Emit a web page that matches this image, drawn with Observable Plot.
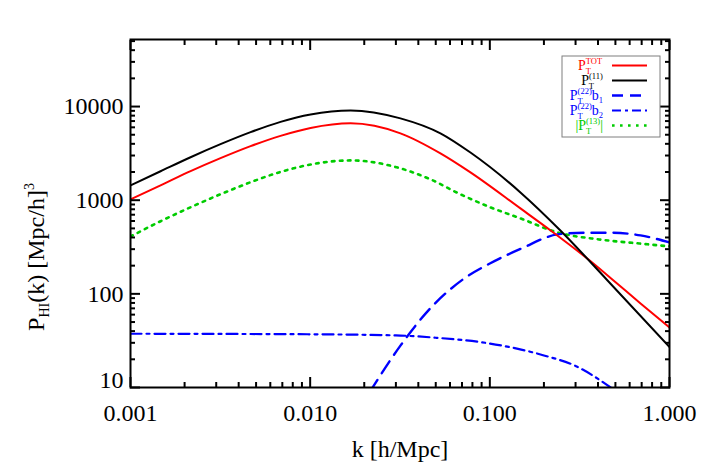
<!DOCTYPE html>
<html><head><meta charset="utf-8">
<script src="https://cdn.jsdelivr.net/npm/d3@7"></script>
<script src="https://cdn.jsdelivr.net/npm/@observablehq/plot@0.6"></script>
<style>body{margin:0;background:#fff;} svg{display:block}</style>
</head><body><div id="chart"></div>
<script>
// ---- data ----
const kTot = [0.001, 0.00147, 0.00216, 0.00317, 0.00466, 0.00684, 0.01005, 0.0168, 0.0318, 0.0531, 0.078, 0.148, 0.218, 0.377, 0.488, 0.69, 1.0];
const pTot = [1021, 1441, 2042, 2811, 3777, 4866, 5904, 6620, 5176, 3162, 1982, 817, 475, 211, 139, 79, 43.7];

const k11 = [0.001, 0.00147, 0.00216, 0.00317, 0.00466, 0.00684, 0.01005, 0.0168, 0.0318, 0.0531, 0.078, 0.148, 0.247, 0.452, 1.0];
const p11 = [1439, 2037, 2877, 3963, 5325, 6866, 8244, 9096, 7482, 5176, 3227, 1211, 475, 139, 27];

const k22b1 = [0.0215, 0.0318, 0.045, 0.0713, 0.1, 0.15, 0.238, 0.332, 0.47, 0.69, 1.0];
const p22b1 = [9, 28, 65, 144, 211, 305, 431, 450, 450, 421, 354];

const k22b2 = [0.001, 0.01, 0.03, 0.05, 0.1, 0.2, 0.3, 0.47, 0.6];
const p22b2 = [37.5, 37, 36, 34, 29.5, 22, 17, 10, 7];

const k13 = [0.001, 0.00147, 0.00216, 0.00317, 0.00466, 0.00684, 0.01005, 0.0168, 0.0318, 0.0468, 0.0688, 0.101, 0.148, 0.238, 0.406, 0.678, 1.0];
const p13 = [410, 596, 841, 1158, 1556, 2005, 2404, 2660, 2187, 1667, 1153, 838, 640, 453, 381, 345, 321];

const xMajor = [0.001, 0.01, 0.1, 1];
const xLabels = ["0.001", "0.010", "0.100", "1.000"];
const yMajor = [10, 100, 1000, 10000];
const yLabels = ["10", "100", "1000", "10000"];
const minorMult = [2, 3, 4, 5, 6, 7, 8, 9];

// ---- helpers ----
const rows = (ks, ps) => ks.map((k, i) => ({k, p: ps[i]}));
const xMinor = [0.001, 0.01, 0.1].flatMap(d => minorMult.map(m => d * m));
const yMinor = [10, 100, 1000, 10000].flatMap(d => minorMult.map(m => d * m)).filter(v => v <= 52000);
const xFmt = d => xLabels[xMajor.indexOf(d)];
const yFmt = d => yLabels[yMajor.indexOf(d)];
const FONT = "'Liberation Serif', 'Times New Roman', serif";
const RED = "#ff0000", BLUE = "#0000ff", GREEN = "#00cc00";

const lineOpts = {x: "k", y: "p", curve: "monotone-x", clip: true};

const plot = Plot.plot({
  width: 709, height: 471,
  marginLeft: 130, marginRight: 40, marginTop: 39, marginBottom: 84,
  style: {fontFamily: FONT, background: "white", color: "black"},
  x: {type: "log", domain: [0.001, 1], label: null},
  y: {type: "log", domain: [10, 52000], label: null},
  marks: [
    Plot.line(rows(k13, p13), {...lineOpts, stroke: GREEN, strokeWidth: 2.6, strokeDasharray: "2.6,5.4"}),
    Plot.line(rows(k22b2, p22b2), {...lineOpts, stroke: BLUE, strokeWidth: 2.2, strokeDasharray: "11,5,3,5"}),
    Plot.line(rows(k22b1, p22b1), {...lineOpts, stroke: BLUE, strokeWidth: 2.4, strokeDasharray: "14,8"}),
    Plot.line(rows(kTot, pTot), {...lineOpts, stroke: RED, strokeWidth: 2}),
    Plot.line(rows(k11, p11), {...lineOpts, stroke: "black", strokeWidth: 2}),
    Plot.frame({stroke: "black", strokeWidth: 2}),
    // inward ticks on all four sides
    Plot.axisX(xMajor, {anchor: "bottom", tickSize: -10, strokeWidth: 2, tickFormat: () => "", label: null}),
    Plot.axisX(xMinor, {anchor: "bottom", tickSize: -5, strokeWidth: 2, tickFormat: () => "", label: null}),
    Plot.axisX(xMajor, {anchor: "top", tickSize: -10, strokeWidth: 2, tickFormat: () => "", label: null}),
    Plot.axisX(xMinor, {anchor: "top", tickSize: -5, strokeWidth: 2, tickFormat: () => "", label: null}),
    Plot.axisY(yMajor, {anchor: "left", tickSize: -10, strokeWidth: 2, tickFormat: () => "", label: null}),
    Plot.axisY(yMinor, {anchor: "left", tickSize: -5, strokeWidth: 2, tickFormat: () => "", label: null}),
    Plot.axisY(yMajor, {anchor: "right", tickSize: -10, strokeWidth: 2, tickFormat: () => "", label: null}),
    Plot.axisY(yMinor, {anchor: "right", tickSize: -5, strokeWidth: 2, tickFormat: () => "", label: null}),
    // tick labels
    Plot.axisX(xMajor, {anchor: "bottom", tickSize: 0, tickPadding: 16, tickFormat: xFmt, fontSize: 24, label: null}),
    Plot.axisY(yMajor.slice(1), {anchor: "left", tickSize: 0, tickPadding: 7, tickFormat: yFmt, fontSize: 24, label: null}),
    Plot.axisY(yMajor.slice(0, 1), {anchor: "left", tickSize: 0, tickPadding: 7, tickFormat: yFmt, fontSize: 24, dy: -7, label: null})
  ]
});
document.getElementById("chart").appendChild(plot);

const svg = d3.select(plot);

// axis titles
svg.append("text")
  .attr("x", 400).attr("y", 457)
  .attr("text-anchor", "middle")
  .style("font-family", FONT).style("font-size", "24px").attr("fill", "black")
  .text("k [h/Mpc]");

const yt = svg.append("text")
  .attr("transform", "translate(44,257) rotate(-90)")
  .attr("text-anchor", "middle")
  .style("font-family", FONT).style("font-size", "24px").attr("fill", "black");
yt.append("tspan").text("P");
yt.append("tspan").style("font-size", "14px").attr("dy", 5).text("HI");
yt.append("tspan").attr("dy", -5).text("(k) [Mpc/h]");
yt.append("tspan").style("font-size", "14px").attr("dy", -10).text("3");

// legend
const lg = svg.append("g");
lg.append("rect").attr("x", 562).attr("y", 56).attr("width", 98).attr("height", 81)
  .attr("fill", "white").attr("stroke", "#7f7f7f").attr("stroke-width", 1);

// each label is one text element, right-aligned at xRight via its measured box
function richText(xRight, yBase, segs, color) {
  const t = lg.append("text").attr("x", 0).attr("y", yBase)
    .style("font-family", FONT).attr("fill", color);
  for (const s of segs) {
    t.append("tspan").style("font-size", s.size + "px")
      .attr("dx", s.dx || 0).attr("dy", s.dy || 0).text(s.t);
  }
  const b = t.node().getBBox();
  t.attr("transform", `translate(${xRight - (b.x + b.width)},0)`);
}
const M = 14, S = 8.5;
const legendItems = [
  {segs: [{t: "P", size: M}, {t: "TOT", size: S, dy: -6}, {t: "T", size: S, dx: -16.5, dy: 10}], color: RED, dash: null, lw: 2},
  {segs: [{t: "P", size: M}, {t: "(11)", size: S, dy: -6}, {t: "T", size: S, dx: -14.2, dy: 10}], color: "black", dash: null, lw: 2},
  {segs: [{t: "P", size: M}, {t: "(22)", size: S, dy: -6}, {t: "T", size: S, dx: -14.2, dy: 10}, {t: "b", size: M, dx: 9, dy: -4}, {t: "1", size: S, dy: 3}], color: BLUE, dash: "11,7", lw: 2.4},
  {segs: [{t: "P", size: M}, {t: "(22)", size: S, dy: -6}, {t: "T", size: S, dx: -14.2, dy: 10}, {t: "b", size: M, dx: 9, dy: -4}, {t: "2", size: S, dy: 3}], color: BLUE, dash: "9,4,3,4", lw: 2.2},
  {segs: [{t: "|P", size: M}, {t: "(13)", size: S, dy: -6}, {t: "T", size: S, dx: -14.2, dy: 10}, {t: "|", size: M, dx: 9, dy: -4}], color: GREEN, dash: "2.6,5.4", lw: 2.6}
];
legendItems.forEach((it, i) => {
  const yb = 70 + i * 15;
  richText(603, yb, it.segs, it.color);
  lg.append("line").attr("x1", 612).attr("x2", 647).attr("y1", yb - 4.5).attr("y2", yb - 4.5)
    .attr("stroke", it.color).attr("stroke-width", it.lw)
    .attr("stroke-dasharray", it.dash);
});
</script>
</body></html>
